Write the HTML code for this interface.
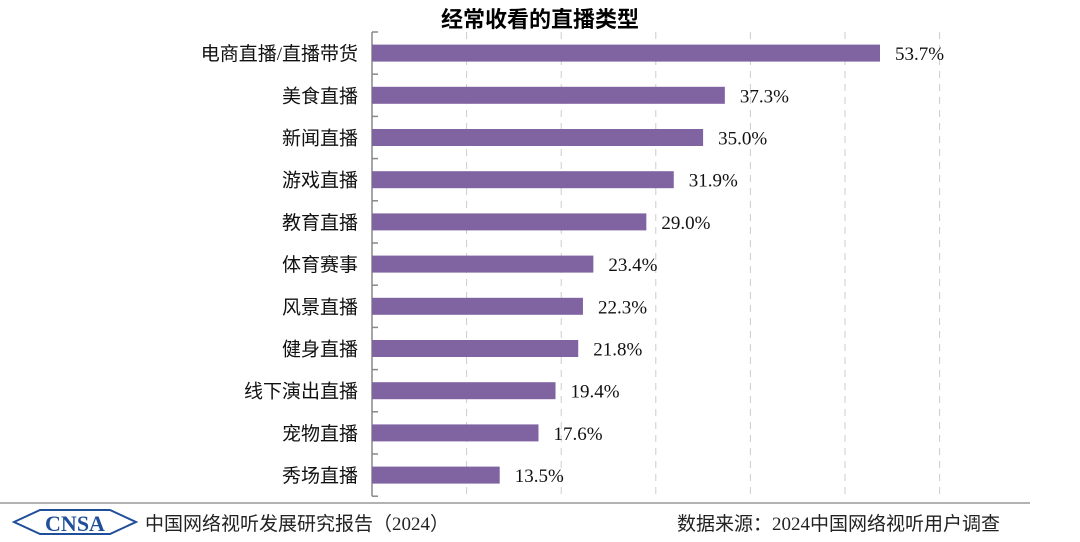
<!DOCTYPE html>
<html><head><meta charset="utf-8"><style>
body{margin:0;width:1080px;height:537px;background:#fff;overflow:hidden;font-family:"Liberation Serif","Noto Serif CJK SC",serif}
svg text{font-family:"Liberation Serif","Noto Sans CJK SC",serif}
</style></head><body>
<svg width="1080" height="537">
<text x="540" y="27" text-anchor="middle" font-size="22" font-weight="bold" font-family="Liberation Sans,Noto Sans CJK SC,sans-serif">经常收看的直播类型</text>
<g id="grid"></g><g id="bars"></g>
<line x1="0" y1="503" x2="1030" y2="503" stroke="#999" stroke-width="1.5"/>
<g>
<path d="M14 522 L40 510 L110 510 L136 522 L110 534 L40 534 Z" fill="none" stroke="#1f4e9a" stroke-width="2"/>
<text x="75" y="531" text-anchor="middle" font-size="22" font-weight="bold" fill="#1f4e9a" font-family="Liberation Sans,sans-serif">CNSA</text>
</g>
<text x="145" y="530" font-size="19" fill="#222" font-family="Liberation Sans,Noto Sans CJK SC,sans-serif">中国网络视听发展研究报告（2024）</text>
<text x="1000" y="530" text-anchor="end" font-size="19" fill="#222" font-family="Liberation Sans,Noto Sans CJK SC,sans-serif">数据来源：2024中国网络视听用户调查</text>
</svg>
<script>
const categories=["电商直播/直播带货","美食直播","新闻直播","游戏直播","教育直播","体育赛事","风景直播","健身直播","线下演出直播","宠物直播","秀场直播"];
const values=[53.7,37.3,35.0,31.9,29.0,23.4,22.3,21.8,19.4,17.6,13.5];
const gridTicks=[10,20,30,40,50,60];
const NS="http://www.w3.org/2000/svg";
const x0=372,pxPer=9.46,plotTop=32,rowH=42.2,barH=17;
const xs=v=>x0+v*pxPer;
const yc=i=>plotTop+rowH*(i+0.5);
const grid=document.getElementById('grid'),bars=document.getElementById('bars');
function mk(tag,attrs,parent){const e=document.createElementNS(NS,tag);for(const k in attrs)e.setAttribute(k,attrs[k]);parent.appendChild(e);return e;}
gridTicks.forEach(t=>{
 const l=mk('line',{x1:xs(t),x2:xs(t),y1:plotTop,y2:plotTop+rowH*categories.length,stroke:'#ccc','stroke-dasharray':'7,6'},grid);
 
 
});
const ax=mk('line',{x1:x0,x2:x0,y1:plotTop,y2:plotTop+rowH*categories.length,stroke:'#888','stroke-width':1.5},grid);


for(let i=0;i<=categories.length;i++){
 const tk=mk('line',{x1:x0,x2:x0+6,y1:plotTop+rowH*i,y2:plotTop+rowH*i,stroke:'#888','stroke-width':1.5},grid);
 
 
}
categories.forEach((c,i)=>{
 const y=yc(i);
 const r=mk('rect',{x:x0,y:y-barH/2,width:xs(values[i])-x0,height:barH,fill:'#8064a2'},bars);
 
 
 const lb=mk('text',{x:358,y:y+7,'text-anchor':'end','font-size':19,fill:'#111','font-family':'Liberation Sans,Noto Sans CJK SC,sans-serif'},bars);
 lb.textContent=c;
 
 
 const vl=mk('text',{x:xs(values[i])+15,y:y+7,'font-size':19,fill:'#111'},bars);
 vl.textContent=values[i].toFixed(1)+'%';
 
 
});
</script>
</body></html>
